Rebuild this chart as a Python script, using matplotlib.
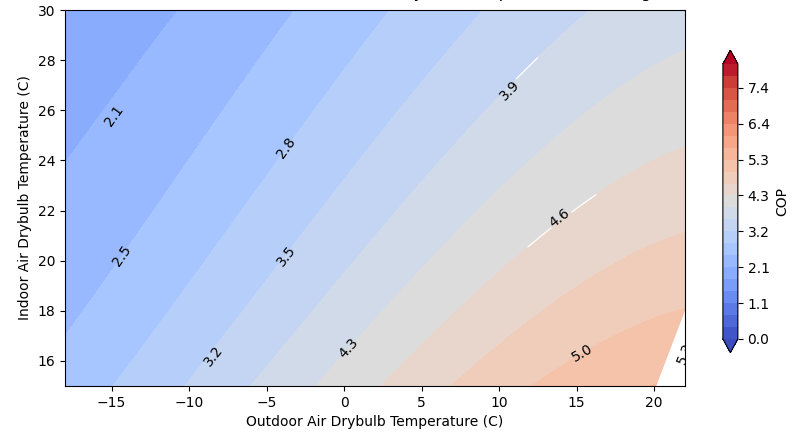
import numpy as np
import matplotlib
matplotlib.use("Agg")
import matplotlib.pyplot as plt

# contour levels of the COP colour scale
levels = np.linspace(0, 8.15, 24)

# points: outdoor temp, indoor temp, level index
pt_outdoor = [-10.6, -18.0,
              -3.3, -5.9, -9.3, -18.0,
              3.0, 0.4, -3.7, -9.3, -15.0,
              9.2, 3.6, -3.7, -7.2, -10.1,
              15.9, 10.8, 3.6, -2.2, -5.9,
              22.0, 0.5, -1.6,
              22.0, 16.3, 11.8, 2.3,
              22.0, 6.7,
              22.0, 15.4, 11.9]
pt_indoor = [30.0, 23.1,
             30.0, 28.0, 24.8, 17.3,
             30.0, 28.0, 24.5, 20.0, 15.0,
             30.0, 26.0, 20.3, 17.6, 15.0,
             30.0, 26.8, 22.0, 17.6, 15.0,
             28.5, 16.6, 15.0,
             24.7, 22.7, 20.6, 15.0,
             21.15, 15.0,
             17.8, 16.5, 15.0]
pt_level = [6, 6,
            7, 7, 7, 7,
            8, 8, 8, 8, 8,
            9, 9, 9, 9, 9,
            10, 10, 10, 10, 10,
            11, 11, 11,
            12, 12, 12, 12,
            13, 13,
            14, 14, 14]

# contour label texts (level index) and where they sit
lab_level = [6, 7, 8, 9, 10, 11, 12, 13, 14, 15]
lab_x = [-14.8, -14.3, -3.7, -8.4, -3.7, 10.7, 0.3, 13.9, 15.4, 22.0]
lab_y = [25.8, 20.2, 24.5, 16.2, 20.2, 26.8, 16.5, 21.7, 16.3, 16.3]

# white seams left where labels cut the filled bands
seam_level = [10, 12]
seam_label = [5, 7]
seam_one_side = [True, False]
# the last band is cut open along a straight chord from this bottom point
cut_bottom_x = 20.1


def poly_terms(a, b):
    return [np.ones_like(a), a, b, a**2, a*b, b**2, a**3, a**2*b, a*b**2, b**3]


to = np.array(pt_outdoor)
ti = np.array(pt_indoor)
cop = levels[np.array(pt_level)]

# fit a smooth COP surface through the boundary points (scaled temps)
A = np.column_stack(poly_terms(to / 20, (ti - 22) / 8))
coef, *_ = np.linalg.lstsq(A, cop, rcond=None)


def cop_surface(a, b):
    return sum(c * t for c, t in zip(coef, poly_terms(a / 20, (b - 22) / 8)))


x = np.linspace(-18, 22, 400)
y = np.linspace(15, 30, 400)
X, Y = np.meshgrid(x, y)
Z = cop_surface(X, Y)

fig = plt.figure(figsize=(7.97, 4.41), dpi=100)
ax = fig.add_axes([0.0816, 0.1247, 0.7779, 0.8526])
cf = ax.contourf(X, Y, Z, levels=levels, cmap="coolwarm", extend="both")

ax.set_xlim(-18, 22)
ax.set_ylim(15, 30)
ax.set_xticks([-15, -10, -5, 0, 5, 10, 15, 20])
ax.set_yticks([16, 18, 20, 22, 24, 26, 28, 30])
ax.set_xlabel("Outdoor Air Drybulb Temperature (C)")
ax.set_ylabel("Indoor Air Drybulb Temperature (C)")
ax.set_title("COP versus Outdoor and Indoor Air Drybulb Temperature - Heating", pad=9.5)

# white corner where the top band got cut open
yr = y[np.argmin(np.abs(cop_surface(22.0, y) - levels[14]))]
ax.fill_betweenx([15, yr], [cut_bottom_x, 22.0], 22.0, color="white", lw=0)

# short white seams next to some labels
sx = ax.bbox.width / 40
sy = ax.bbox.height / 15
for lev, li, one in zip(seam_level, seam_label, seam_one_side):
    d = np.hypot((X - lab_x[li]) * sx, (Y - lab_y[li]) * sy)
    hide = (d > 44) | (d < 12)
    if one:
        hide |= X < lab_x[li]
    Zs = np.ma.masked_where(hide, Z)
    ax.contour(X, Y, Zs, levels=[levels[lev]], colors="white", linewidths=0.9)

# labels follow the local direction of the contours
for k, lx, ly in zip(lab_level, lab_x, lab_y):
    if k == 15:
        tx, ty = 22.0 - cut_bottom_x, yr - 15
    else:
        h = 0.05
        gx = (cop_surface(lx + h, ly) - cop_surface(lx - h, ly)) / (2 * h)
        gy = (cop_surface(lx, ly + h) - cop_surface(lx, ly - h)) / (2 * h)
        tx, ty = gy, -gx
    ang = np.degrees(np.arctan2(ty * sy, tx * sx))
    if ang > 90:
        ang -= 180
    elif ang < -90:
        ang += 180
    ax.text(lx, ly, f"{levels[k]:.1f}", fontsize=10, rotation=ang,
            rotation_mode="anchor", ha="center", va="center", clip_on=True)

cax = fig.add_axes([0.907, 0.2002, 0.0188, 0.686])
cb = fig.colorbar(cf, cax=cax, ticks=levels[::3], format="%.1f")
cb.set_label("COP")

fig.savefig("out.png")
